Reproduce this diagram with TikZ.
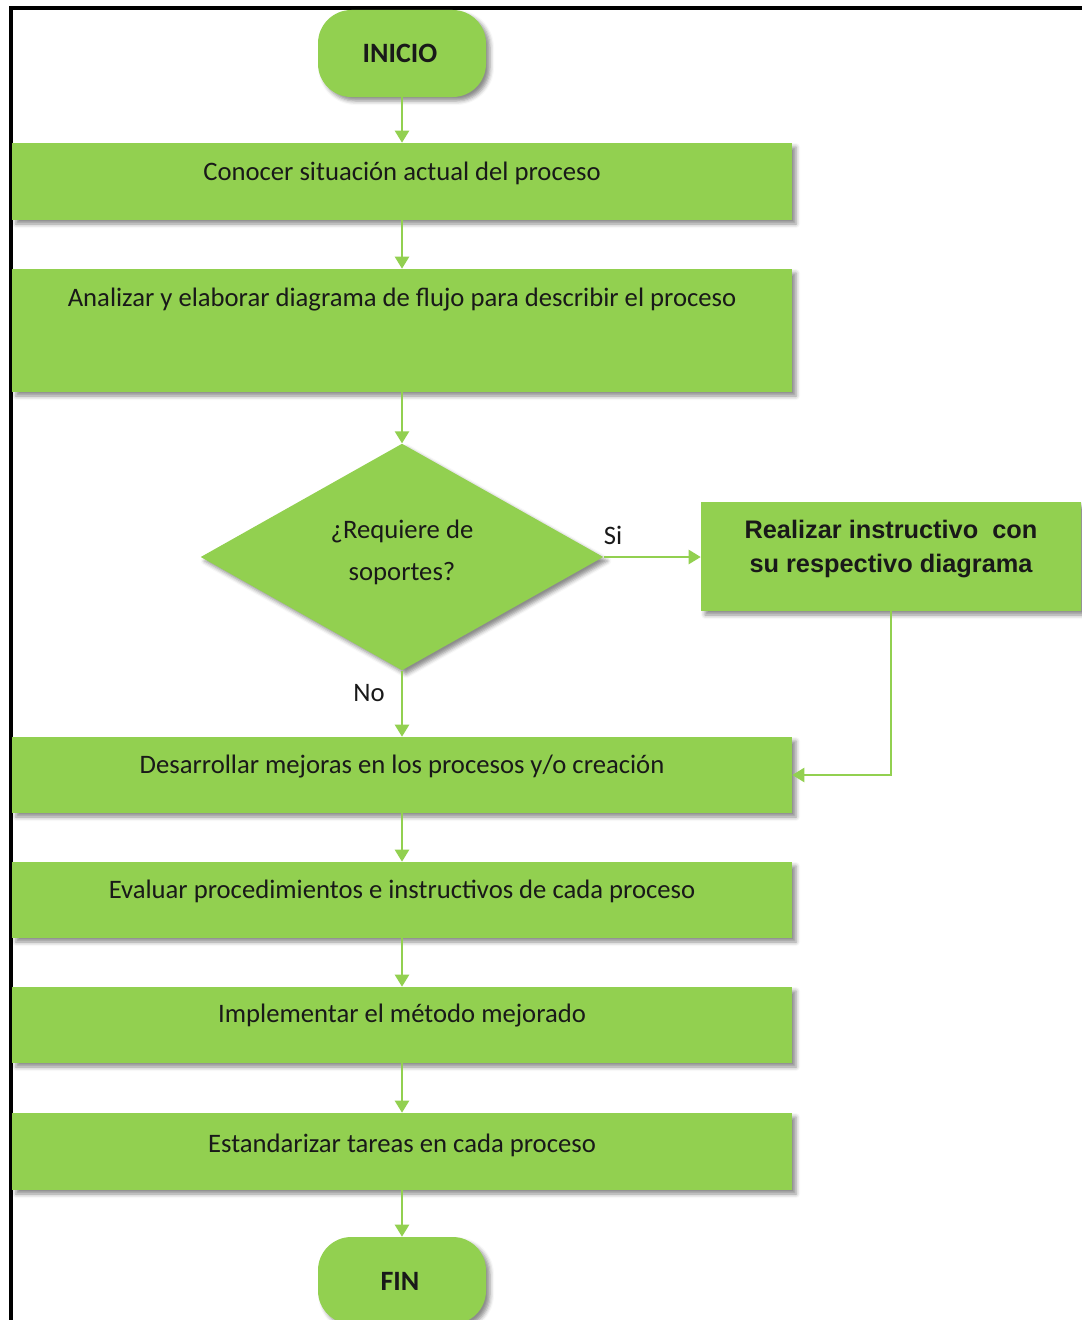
\documentclass[tikz,border=0pt]{standalone}
\usepackage{fontspec}
\setmainfont{Carlito}
\newfontfamily\headfont{Liberation Sans}
\usetikzlibrary{shapes.geometric,arrows.meta,fit,shadows.blur}
\definecolor{leaf}{HTML}{92D050}
\begin{document}
\begin{tikzpicture}[x=0.75pt,y=-0.75pt,
  soft/.style={blur shadow={shadow xshift=3pt,shadow yshift=-3pt,shadow blur radius=3pt,shadow opacity=45}},
  stepbox/.style={fill=leaf,draw=none,inner sep=0pt,soft},
  terminal/.style={stepbox,rounded corners=25pt},
  txt/.style={font=\fontsize{20}{24}\selectfont,text=black!90,inner sep=0pt},
  termtxt/.style={txt,font=\fontsize{21}{25}\selectfont\bfseries},
  flow/.style={draw=leaf,line width=1.7pt,-{Triangle[length=9pt,width=10.5pt]}}]

\useasboundingbox (0,0) rectangle (1081,1320);

% frame
\draw[line width=2.4pt] (11,1324) |- (1084,8);

% shapes
\node[terminal,fit={(318,10)(486,97)}] (start) {};
\node[stepbox,fit={(12,143)(792,220)}] (b1) {};
\node[stepbox,fit={(12,269)(792,392)}] (b2) {};
\node[stepbox,diamond,minimum width=302pt,minimum height=170pt] (dec) at (402,557) {};
\node[stepbox,fit={(701,502)(1081,611)}] (rb) {};
\node[stepbox,fit={(12,737)(792,813)}] (b3) {};
\node[stepbox,fit={(12,862)(792,938)}] (b4) {};
\node[stepbox,fit={(12,987)(792,1063)}] (b5) {};
\node[stepbox,fit={(12,1113)(792,1190)}] (b6) {};
\node[terminal,fit={(318,1237)(486,1324)}] (stop) {};

% texts
\node[termtxt] (ts) at (400,53) {INICIO};
\node[termtxt] (tf) at (400,1281) {FIN};
\node[txt] (t1) at (402,173) {Conocer situación actual del proceso};
\node[txt] (t2) at (402,300) {Analizar y elaborar diagrama de flujo para describir el proceso};
\node[txt,align=center,font=\fontsize{20}{31.5}\selectfont] (td) at (402,552) {¿Requiere de\\soportes?};
\node[txt,align=center,font=\fontsize{19}{25.5}\selectfont\headfont\bfseries] (rt) at (891,549) {Realizar instructivo\ \ con\\su respectivo diagrama};
\node[txt] (t3) at (402,767) {Desarrollar mejoras en los procesos y/o creación};
\node[txt] (t4) at (402,891) {Evaluar procedimientos e instructivos de cada proceso};
\node[txt] (t5) at (402,1016) {Implementar el método mejorado};
\node[txt] (t6) at (402,1145) {Estandarizar tareas en cada proceso};
\node[txt] (si) at (613,535) {Si};
\node[txt] (no) at (369,693) {No};

% connectors
\draw[flow] (start) -- (b1);
\draw[flow] (b1) -- (b2);
\draw[flow] (b2) -- (dec);
\draw[flow] (dec.east) -- (dec.east -| rb.west);
\draw[flow] (dec) -- (b3);
\draw[flow] (rb.south) |- (b3.east);
\draw[flow] (b3) -- (b4);
\draw[flow] (b4) -- (b5);
\draw[flow] (b5) -- (b6);
\draw[flow] (b6) -- (stop);
\end{tikzpicture}
\end{document}
